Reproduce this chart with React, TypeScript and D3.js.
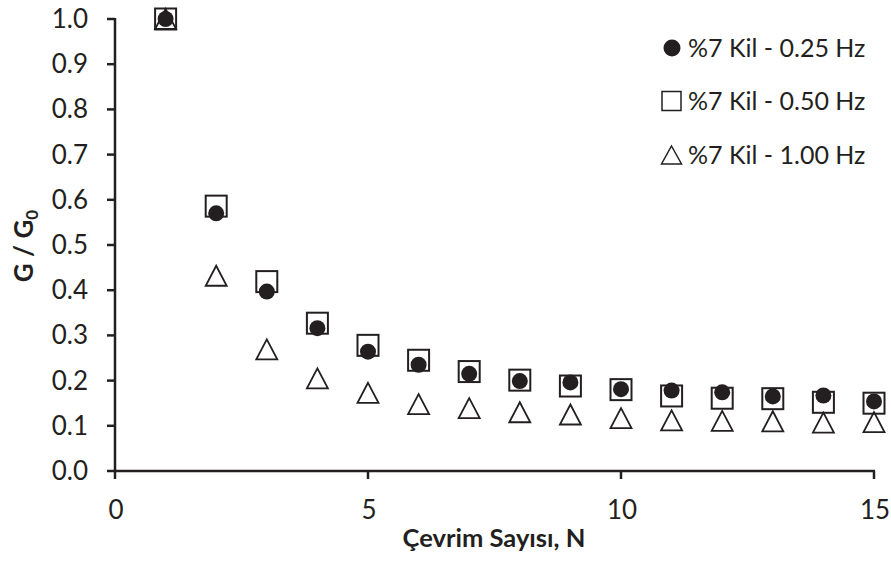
import React from "react";
import * as d3 from "d3";

const cycles = [1, 2, 3, 4, 5, 6, 7, 8, 9, 10, 11, 12, 13, 14, 15];
const hz025 = [1.0, 0.57, 0.397, 0.316, 0.264, 0.235, 0.215, 0.199, 0.196, 0.181, 0.178, 0.174, 0.165, 0.167, 0.154];
const hz050 = [1.0, 0.586, 0.419, 0.327, 0.278, 0.245, 0.22, 0.201, 0.188, 0.18, 0.166, 0.161, 0.16, 0.152, 0.15];
const hz100 = [1.0, 0.432, 0.269, 0.205, 0.173, 0.148, 0.139, 0.13, 0.125, 0.117, 0.112, 0.111, 0.11, 0.107, 0.108];
const xTicks = [0, 5, 10, 15];
const yTicks = [0, 0.1, 0.2, 0.3, 0.4, 0.5, 0.6, 0.7, 0.8, 0.9, 1.0];
const legendLabels = ["%7 Kil - 0.25 Hz", "%7 Kil - 0.50 Hz", "%7 Kil - 1.00 Hz"];

const W = 891;
const H = 563;
const FONT = "Lato, 'Open Sans', sans-serif";
const INK = "#231f20";

export default function App() {
  const x = d3.scaleLinear().domain([0, 15]).range([115, 874]);
  const y = d3.scaleLinear().domain([0, 1]).range([471, 19]);

  const sq = 21;

  const triPath = (cx: number, cy: number, w: number, h: number) =>
    `M${cx},${cy - h / 2}L${cx + w / 2},${cy + h / 2}L${cx - w / 2},${cy + h / 2}Z`;

  const legendY = [48, 101, 155];

  return (
    <svg width={W} height={H} style={{ position: "absolute", left: 0, top: 0, background: "#fff" }}>
      <rect x={0} y={0} width={W} height={H} fill="#fff" />
      {/* y axis */}
      <line x1={x(0)} x2={x(0)} y1={y(0) + 1} y2={y(1) - 1} stroke={INK} strokeWidth={2.5} />
      {yTicks.map((t) => (
        <g key={"y" + t}>
          <line x1={x(0) - 8} x2={x(0)} y1={y(t)} y2={y(t)} stroke={INK} strokeWidth={2.5} />
          <text x={88} y={y(t) + 9} textAnchor="end" fontFamily={FONT} fontSize={26} fill={INK}>
            {t.toFixed(1)}
          </text>
        </g>
      ))}
      {/* x axis */}
      <line x1={x(0) - 1} x2={x(15) + 1} y1={y(0)} y2={y(0)} stroke={INK} strokeWidth={2.5} />
      {xTicks.map((t) => (
        <g key={"x" + t}>
          <line x1={x(t)} x2={x(t)} y1={y(0)} y2={y(0) + 8} stroke={INK} strokeWidth={2.5} />
          <text x={x(t) + 1} y={519} textAnchor="middle" fontFamily={FONT} fontSize={26} fill={INK}>
            {t}
          </text>
        </g>
      ))}
      {/* axis titles */}
      <text x={494} y={547} textAnchor="middle" fontFamily={FONT} fontWeight="bold" fontSize={25.5} fill={INK}>
        Çevrim Sayısı, N
      </text>
      <text
        transform={`translate(33,246) rotate(-90)`}
        textAnchor="middle"
        fontFamily={FONT}
        fontWeight="bold"
        fontSize={26}
        fill={INK}
      >
        G / G<tspan fontSize={17} dy={5}>0</tspan>
      </text>
      {/* series: triangles (1.00 Hz) */}
      {cycles.map((c, i) => (
        <path
          key={"t" + c}
          d={triPath(x(c), y(hz100[i]), 21, 20)}
          fill="#fff"
          stroke={INK}
          strokeWidth={1.8}
        />
      ))}
      {/* squares (0.50 Hz) */}
      {cycles.map((c, i) => (
        <rect
          key={"s" + c}
          x={x(c) - sq / 2}
          y={y(hz050[i]) - sq / 2}
          width={sq}
          height={sq}
          fill="none"
          stroke={INK}
          strokeWidth={2}
        />
      ))}
      {/* circles (0.25 Hz) */}
      {cycles.map((c, i) => (
        <circle key={"c" + c} cx={x(c)} cy={y(hz025[i])} r={8} fill={INK} />
      ))}
      {/* legend */}
      <circle cx={672} cy={legendY[0]} r={8.5} fill={INK} />
      <rect x={662} y={legendY[1] - 9.5} width={19} height={19} fill="none" stroke={INK} strokeWidth={1.5} />
      <path d={triPath(671.5, legendY[2], 20, 18)} fill="none" stroke={INK} strokeWidth={1.5} />
      {legendLabels.map((l, i) => (
        <text key={l} x={688} y={legendY[i] + 9} fontFamily={FONT} fontSize={25} fill={INK}>
          {l}
        </text>
      ))}
    </svg>
  );
}
